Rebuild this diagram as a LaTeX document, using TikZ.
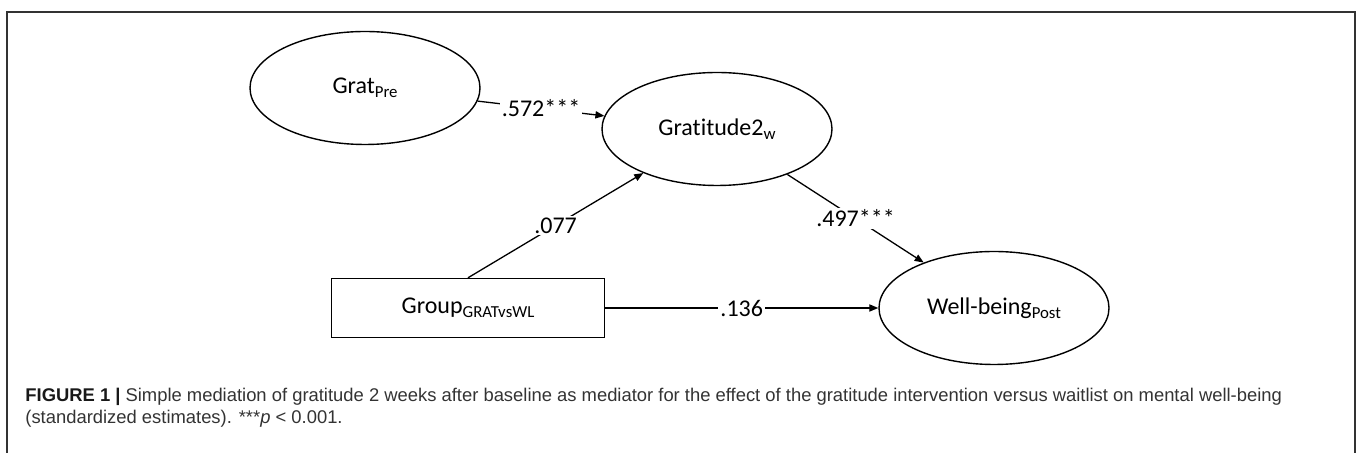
\documentclass[tikz,border=0pt]{standalone}
\usepackage{fontspec}
\setmainfont{Carlito}[Ligatures=CommonOff]
\newfontfamily\capfont{Liberation Sans}
\usetikzlibrary{arrows.meta,shapes.geometric}
\newcommand\lowtxt[1]{\raisebox{-0.35ex}{\fontsize{8.4}{8.4}\selectfont #1}}
\definecolor{captxt}{HTML}{333333}
\begin{document}
\begin{tikzpicture}[x=0.5pt,y=-0.5pt,
  latent/.style={draw, ellipse, minimum width=115pt, minimum height=56.5pt, inner sep=0pt, line width=0.7pt, font=\fontsize{12}{14}\selectfont},
  obsbox/.style={draw, rectangle, minimum width=136.5pt, minimum height=29.5pt, inner sep=0pt, line width=0.7pt, font=\fontsize{12}{14}\selectfont},
  path/.style={line width=0.65pt, -{Triangle[length=4.5pt,width=3.6pt]}},
  lbl/.style={fill=white, inner sep=1pt, font=\fontsize{12}{14}\selectfont},
  frame/.style={line width=0.75pt, draw=black!80}]
\useasboundingbox (0,0) rectangle (1357,453);
\draw[frame] (7,453) -- (7,12) -- (1355,12) -- (1355,453);
\node[latent] (pre) at (365,88) {Grat\lowtxt{Pre}};
\node[latent] (grat) at (717,129) {Gratitude2\lowtxt{w}};
\node[obsbox] (group) at (468,308) {Group\lowtxt{GRATvsWL}};
\node[latent] (well) at (994,308) {Well-being\lowtxt{Post}};
\draw[path] (pre) -- node[lbl] {.572***} (grat);
\draw[path] (group.north) -- node[lbl] {.077} (grat);
\draw[path] (grat) -- node[lbl] {.497***} (well);
\draw[path] (group.east) -- node[lbl] {.136} (well.west);
\node[anchor=base west, align=left, inner sep=0pt, text=captxt, font=\capfont\fontsize{9.2}{11}\selectfont] (cap) at (25,424)
  {{\color{black!90}\textbf{FIGURE 1 |}} Simple mediation of gratitude 2 weeks after baseline as mediator for the effect of the gratitude intervention versus waitlist on mental well-being\\
   (standardized estimates). ***\textit{p} < 0.001.};
\end{tikzpicture}
\end{document}
